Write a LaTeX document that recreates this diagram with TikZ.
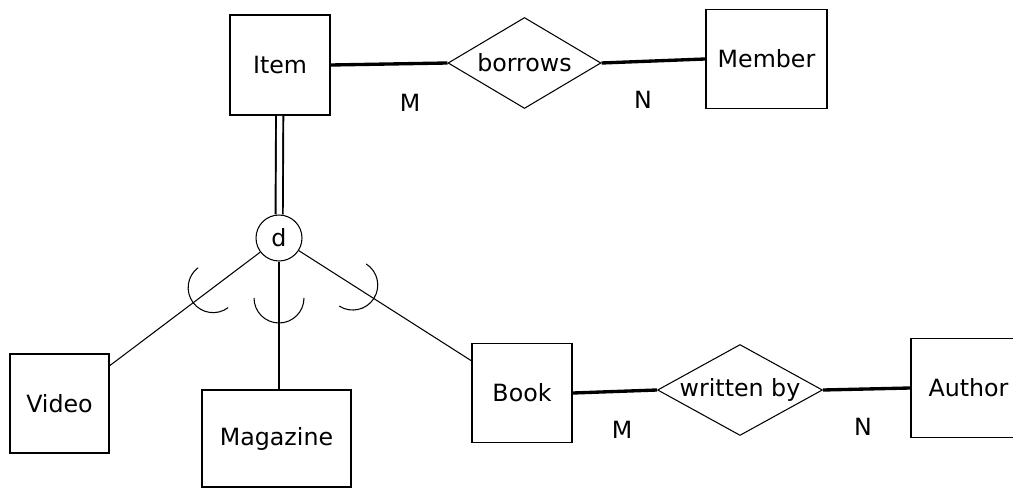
\documentclass[tikz,border=0pt]{standalone}
\usepackage{fontspec}
\setmainfont{DejaVu Sans}
\usepackage{tikz}
\usetikzlibrary{
	calc,
	positioning,
	shapes.geometric
}

\tikzset{
	entity/.style={draw, line width=1.1pt, inner sep=0pt},
	relation/.style={draw, diamond, aspect=1.8, line width=0.6pt, inner sep=0pt, minimum height=1.82cm},
	disjoint/.style={draw, circle, line width=0.6pt, inner sep=0pt, minimum size=0.92cm},
	heavy/.style={line width=1.9pt},
	subline/.style={line width=0.6pt},
	card/.style={inner sep=0pt}
}

\begin{document}
\begin{tikzpicture}[x=0.02cm, y=-0.02cm, font=\fontsize{13.5}{16}\selectfont]
	\useasboundingbox (0,0) rectangle (1013,489);
	\node[entity, minimum width=2cm, minimum height=2cm] (item) at (280,65) {Item};
	\node[relation, minimum width=3.06cm] (borrows) at (524.5,63) {borrows};
	\node[entity, minimum width=2.42cm, minimum height=1.98cm] (member) at (766.5,59) {Member};
	\node[disjoint] (d) at (279,238) {d};
	\node[entity, minimum width=1.98cm, minimum height=1.98cm] (video) at (59.5,403.5) {Video};
	\node[entity, minimum width=2.98cm, minimum height=1.94cm] (magazine) at (276.5,438.5) {Magazine};
	\node[entity, minimum width=2cm, minimum height=1.98cm] (book) at (522,393) {Book};
	\node[relation, minimum width=3.3cm] (written) at (740,390) {written by};
	\node[entity, minimum width=2.3cm, minimum height=1.98cm] (author) at (968.5,388) {Author};
	\coordinate (magtop) at (d |- magazine.north);
	\draw[heavy] (item.east) -- (borrows.west);
	\draw[heavy] (borrows.east) -- (member.west);
	\draw[heavy] (book.east) -- (written.west);
	\draw[heavy] (written.east) -- (author.west);
	\draw[double, line width=1.1pt, double distance=3pt] (item) -- (d);
	\foreach \sub/\gap in {video/1.65cm, magtop/1.2cm, book/1.75cm} {
		\draw[subline] (d) -- (\sub);
		\draw[subline] let \p1=($(\sub)-(d)$), \n1={atan2(\y1,\x1)}, \n2={\n1-90}, \n3={\n1+90} in
			($(d)!\gap!(\sub)$) ++(\n2:0.5cm) arc[start angle=\n2, end angle=\n3, radius=0.5cm];
	}
	\node[card] (m1) at (410,103) {M};
	\node[card] (n1) at (643,100) {N};
	\node[card] (m2) at (622,430) {M};
	\node[card] (n2) at (863,427) {N};
\end{tikzpicture}
\end{document}
